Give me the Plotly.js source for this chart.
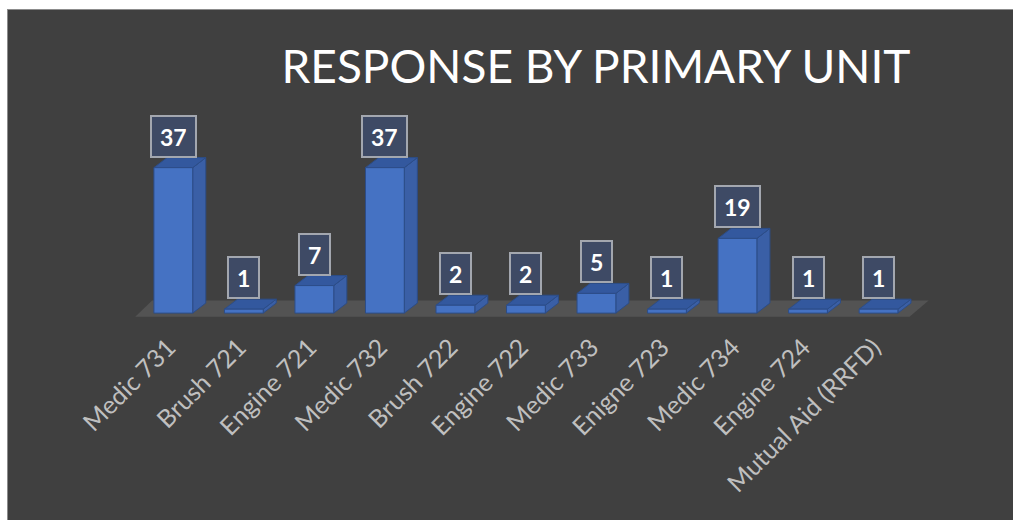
<!DOCTYPE html>
<html>
<head>
<meta charset="utf-8">
<script src="https://cdn.plot.ly/plotly-3.0.1.min.js"></script>
<style>
  html, body { margin: 0; padding: 0; background: #ffffff; width: 1013px; height: 520px; overflow: hidden; }
  #chart { position: absolute; left: 7px; top: 9px; width: 1006px; height: 511px;
           border-top: 1px solid #8c8c8c; border-left: 1px solid #8c8c8c; }
</style>
</head>
<body>
<div id="chart"></div>
<script>
// ---- data ----
const categories = ['Medic 731', 'Brush 721', 'Engine 721', 'Medic 732', 'Brush 722', 'Engine 722',
                    'Medic 733', 'Enigne 723', 'Medic 734', 'Engine 724', 'Mutual Aid (RRFD)'];
const counts = [37, 1, 7, 37, 2, 2, 5, 1, 19, 1, 1];
const chartTitle = 'RESPONSE BY PRIMARY UNIT';

// ---- 3D look (styling) ----
const BAR_W = 0.55;   // front face width in category units
const DX = 0.185;     // depth offset along x (category units)
const DY = 2.55;      // depth offset along y (value units)
const LABEL_NUDGE = -0.07; // small leftward nudge of the rotated tick labels

const idx = categories.map((_, i) => i);

function polys(fn) {
  const xs = [], ys = [];
  idx.forEach(i => {
    const pts = fn(i, counts[i]);
    pts.forEach(p => { xs.push(p[0]); ys.push(p[1]); });
    xs.push(pts[0][0]); ys.push(pts[0][1]);
    xs.push(null); ys.push(null);
  });
  return {x: xs, y: ys};
}

const hw = BAR_W / 2;
const frontFaces = polys((i, v) => [[i - hw, 0], [i + hw, 0], [i + hw, v], [i - hw, v]]);
const sideFaces  = polys((i, v) => [[i + hw, 0], [i + hw + DX, DY], [i + hw + DX, v + DY], [i + hw, v]]);
const topFaces   = polys((i, v) => [[i - hw, v], [i + hw, v], [i + hw + DX, v + DY], [i - hw + DX, v + DY]]);

const nCat = categories.length;
const floorX = [-0.54, nCat - 1 + 0.44, nCat - 1 + 0.44 + 0.27, -0.54 + 0.24, -0.54];
const floorY = [-0.9, -0.9, 3.2, 3.2, -0.9];

const edge = {color: '#2c4d88', width: 1};
const traces = [
  {type: 'scatter', mode: 'lines', x: floorX, y: floorY, fill: 'toself',
   fillcolor: '#535353', line: {width: 0}, hoverinfo: 'skip'},
  {type: 'scatter', mode: 'lines', x: sideFaces.x, y: sideFaces.y, fill: 'toself',
   fillcolor: '#3a5fa6', line: edge, hoverinfo: 'skip'},
  {type: 'scatter', mode: 'lines', x: topFaces.x, y: topFaces.y, fill: 'toself',
   fillcolor: '#33589e', line: edge, hoverinfo: 'skip'},
  {type: 'scatter', mode: 'lines', x: frontFaces.x, y: frontFaces.y, fill: 'toself',
   fillcolor: '#4572c3', line: edge, hoverinfo: 'skip'}
];

const annotations = idx.map(i => ({
  x: i, y: counts[i] + DY, xref: 'x', yref: 'y',
  text: String(counts[i]), showarrow: false,
  xanchor: 'center', yanchor: 'bottom',
  font: {family: 'Lato, sans-serif', size: 23, color: '#ffffff', weight: 'bold'},
  bgcolor: '#3e4a65', bordercolor: '#a3a7af', borderwidth: 2, borderpad: 8,
  height: 23
}));

const layout = {
  width: 1006, height: 511,
  paper_bgcolor: '#404040', plot_bgcolor: 'rgba(0,0,0,0)',
  margin: {l: 122.6, r: 71.5, t: 138.4, b: 202.1, pad: 0},
  showlegend: false,
  title: {
    text: chartTitle, xref: 'container', yref: 'container',
    x: 588 / 1006, xanchor: 'center', y: 1 - 41 / 511, yanchor: 'top',
    font: {family: 'Lato, sans-serif', size: 46, color: '#ffffff'}
  },
  xaxis: {
    range: [-0.6, 10.9], tickmode: 'array',
    tickvals: idx.map(i => i + LABEL_NUDGE), ticktext: categories,
    tickangle: -45, showgrid: false, zeroline: false, showline: false, ticks: '',
    ticklabelstandoff: 8,
    tickfont: {family: 'Lato, sans-serif', size: 25, color: '#bfbfbf'},
    fixedrange: true
  },
  yaxis: {
    range: [-1.5, 42], visible: false, fixedrange: true
  },
  annotations: annotations
};

Plotly.newPlot('chart', traces, layout, {displayModeBar: false, staticPlot: true});
</script>
</body>
</html>
